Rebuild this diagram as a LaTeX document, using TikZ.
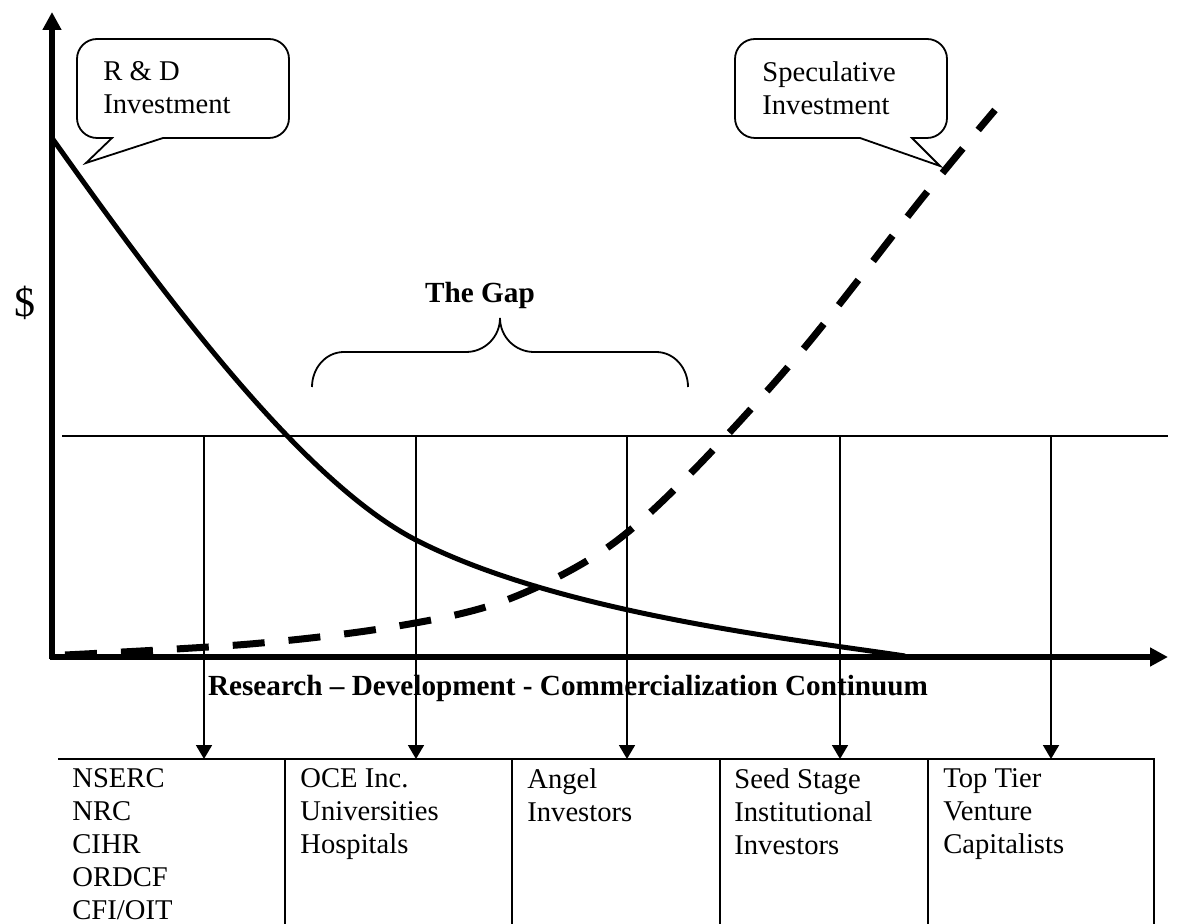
\documentclass[tikz,border=0pt]{standalone}
\usepackage{fontspec}
\setmainfont{Liberation Serif}
\usetikzlibrary{arrows.meta,positioning}

\tikzset{
  axis/.style={line width=2.6pt,-{Triangle[length=9pt,width=9pt]}},
  rdcurve/.style={line width=2.5pt},
  speccurve/.style={line width=3.5pt,dash pattern=on 16pt off 12pt},
  thinline/.style={line width=0.9pt},
  drop/.style={line width=0.9pt,-{Triangle[length=7pt,width=8pt]}},
  lbl/.style={font=\fontsize{14.3}{16.5}\selectfont,inner sep=0pt,align=left,anchor=north west},
  bold/.style={font=\fontsize{14.6}{16.5}\selectfont\bfseries,inner sep=0pt,anchor=base}
}

\begin{document}
\begin{tikzpicture}[x=0.5pt,y=-0.5pt]
\useasboundingbox (0,0) rectangle (1177,924);

\draw[axis] (52,659) -- (52,12);
\draw[axis] (50,657) -- (1168,657);
\node (dollar) at (25,303) [font=\fontsize{21}{24}\selectfont,inner sep=0pt] {\$};

\draw[rdcurve] (52,138) .. controls (160,290) and (300,480) .. (416,540)
  .. controls (560,614) and (800,640) .. (905,656);
\draw[speccurve] plot[smooth,tension=0.55] coordinates {(65,655) (250,644) (392,627) (501,602) (601,552) (685,479) (800,353) (923,197) (995,110)};

\draw[thinline] (86,163) -- (163,138) [rounded corners=10pt] -- (289,138) -- (289,39) -- (77,39) -- (77,138) [sharp corners] -- (112,138) -- cycle;
\node (rd) at (103,61) [lbl] {R \& D\\Investment};

\draw[thinline] (940,166) -- (912,138) [rounded corners=10pt] -- (947,138) -- (947,39) -- (735,39) -- (735,138) [sharp corners] -- (860,138) -- cycle;
\node (spec) at (762,61) [lbl] {Speculative\\Investment};

\draw[thinline] (312,387) to[out=90,in=180] (344,352) -- (466,352) to[out=0,in=-90] (500,318)
  to[out=-90,in=180] (534,352) -- (656,352) to[out=0,in=90] (688,387);
\node (gap) at (480,303) [bold] {The Gap};

\node (axislabel) at (568,695) [bold] {Research -- Development - Commercialization Continuum};

\draw[thinline] (62,436) -- (1168,436);
\draw[thinline] (58,759) -- (1154,759) -- (1154,930);
\foreach \x in {285,512,720,928} {
\draw[thinline] (\x,759) -- (\x,930);
}

\foreach \x [count=\i from 0] in {204,416,627,840,1051} {
\coordinate (c\i) at (\x,436);
\coordinate (b\i) at (\x,759);
\draw[drop] (c\i) -- (b\i);
}

\node (t0) at (72,768) [lbl] {NSERC\\NRC\\CIHR\\ORDCF\\CFI/OIT};
\node (t1) at (300,768) [lbl] {OCE Inc.\\Universities\\Hospitals};
\node (t2) at (527,768) [lbl] {Angel\\Investors};
\node (t3) at (734,768) [lbl] {Seed Stage\\Institutional\\Investors};
\node (t4) at (943,768) [lbl] {Top Tier\\Venture\\Capitalists};
\end{tikzpicture}
\end{document}
